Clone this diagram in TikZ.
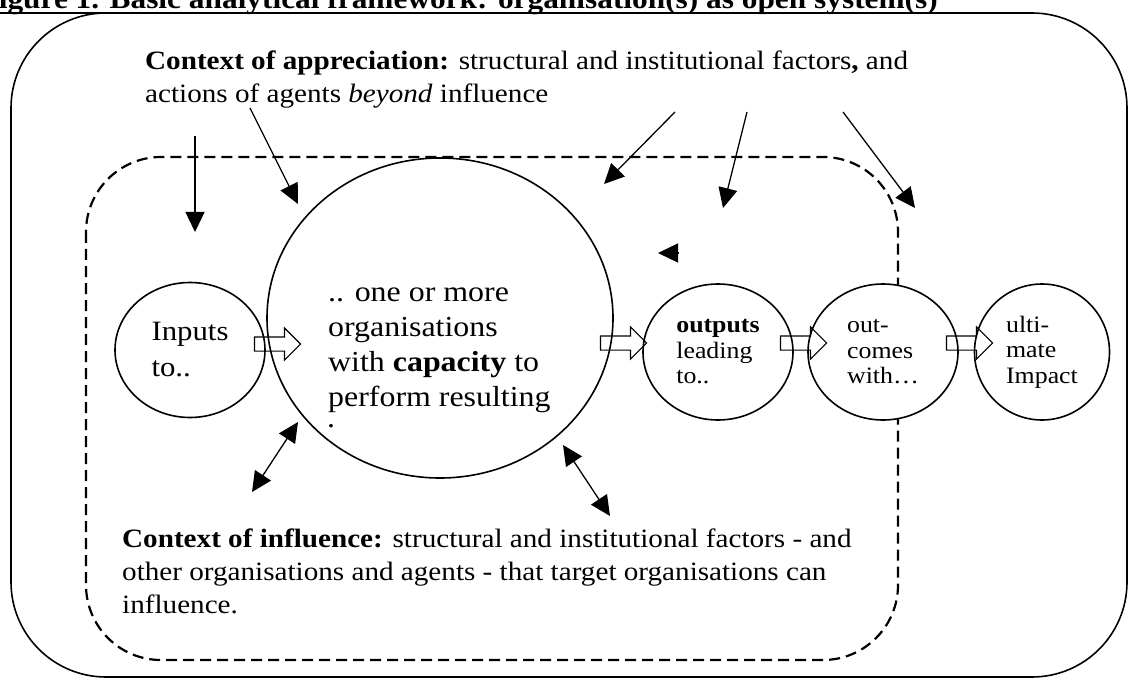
\documentclass[tikz,border=0pt]{standalone}
\usepackage{fontspec}
\setmainfont{Liberation Serif}[FakeStretch=1.1]
\usetikzlibrary{arrows.meta,shapes.geometric,shapes.arrows}

\tikzset{
  bubble/.style={draw, ellipse, fill=white, line width=1.6pt, inner sep=0pt, align=left},
  flow/.style={draw, single arrow, line width=1.1pt, inner sep=6.5pt,
    minimum height=46pt, single arrow head extend=9pt},
  para/.style={anchor=base west, align=left, inner sep=0pt,
    font=\fontsize{26.5}{33}\selectfont},
  small/.style={font=\fontsize{23.5}{25.5}\selectfont},
  thin/.style={line width=1.3pt}
}

\begin{document}
\begin{tikzpicture}[x=1pt, y=-1pt, >={Triangle[length=20pt,width=19pt]}]
  \useasboundingbox (0,0) rectangle (1130,679);
  \node[anchor=base east, inner sep=0pt, font=\bfseries\fontsize{28.5}{30}\selectfont]
    (title) at (938,9) {Figure 1. Basic analytical framework: organisation(s) as open system(s)};
  \draw[line width=1.6pt]
    ([yshift=-4pt]title.base west)
    --
    ([yshift=-4pt]title.base east);
  \draw[line width=1.6pt, rounded corners=95pt]
    (11,13) rectangle (1127,677);
  \draw[line width=2.2pt, dash pattern=on 11pt off 6pt, rounded corners=75pt]
    (86,157) rectangle (898,660);

  \node[bubble, minimum width=150pt, minimum height=135pt, font=\fontsize{28}{36}\selectfont]
    (inputs) at (190,350) {Inputs\\to..};
  \node[bubble, minimum width=346pt, minimum height=320pt]
    (org) at (440,318) {};
  \node[bubble, small, minimum width=150pt, minimum height=136pt]
    (outputs) at (718,352) {\textbf{outputs}\\leading\\to..};
  \node[bubble, small, minimum width=150pt, minimum height=136pt]
    (outcomes) at (883,352) {out-\\comes\\with…};
  \node[bubble, small, minimum width=135pt, minimum height=136pt]
    (impact) at (1042,352) {ulti-\\mate\\Impact};

  \node[para, font=\fontsize{29}{35}\selectfont]
    (orgtext) at (328,406) {.. one or more\\organisations\\with \textbf{capacity} to\\perform resulting};
  \node[para, font=\fontsize{29}{35}\selectfont]
    (orgdot) at (327,427) {.};

  \node[para]
    (appreciation) at (145,103) {\textbf{Context of appreciation:} structural and institutional factors\textbf{,} and\\actions of agents \textit{beyond} influence};
  \node[para]
    (influence) at (122,613) {\textbf{Context of influence:} structural and institutional factors - and\\other organisations and agents - that target organisations can\\influence.};

  \node[flow] (flow1) at (274,344) {};
  \node[flow] (flow2) at (620,343) {};
  \node[flow] (flow3) at (800,343) {};
  \node[flow] (flow4) at (966,343) {};

  \coordinate (from1) at (195,136);
  \coordinate (to1) at (195,232);
  \coordinate (from2) at (250,108);
  \coordinate (to2) at (298,204);
  \coordinate (from3) at (675,112);
  \coordinate (to3) at (604,184);
  \coordinate (from4) at (747,112);
  \coordinate (to4) at (723,208);
  \coordinate (from5) at (843,112);
  \coordinate (to5) at (915,208);
  \coordinate (lone) at (678,253);
  \coordinate (loneto) at (658,253);
  \coordinate (back1) at (252,492);
  \coordinate (back1to) at (298,422);
  \coordinate (back2) at (610,516);
  \coordinate (back2to) at (563,445);

  \draw[->, thin] (from1) -- (to1);
  \draw[->, thin] (from2) -- (to2);
  \draw[->, thin] (from3) -- (to3);
  \draw[->, thin] (from4) -- (to4);
  \draw[->, thin] (from5) -- (to5);
  \draw[->, thin] (lone) -- (loneto);
  \draw[<->, thin] (back1) -- (back1to);
  \draw[<->, thin] (back2) -- (back2to);
\end{tikzpicture}
\end{document}
